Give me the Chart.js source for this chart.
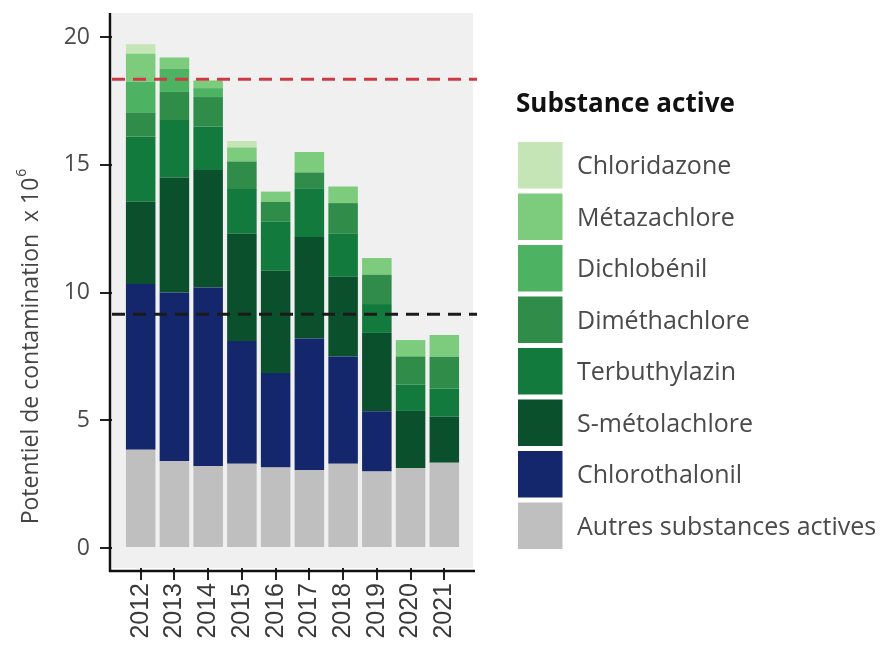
<!DOCTYPE html>
<html lang="fr">
<head>
<meta charset="UTF-8">
<title>Potentiel de contamination</title>
<script src="https://cdn.jsdelivr.net/npm/chart.js"></script>
<style>
  html, body { margin: 0; padding: 0; background: #fff; }
  #wrap { width: 884px; height: 645px; }
</style>
</head>
<body>
<div id="wrap"><canvas id="chart" width="884" height="645"></canvas></div>
<script>
// années
const years = ['2012', '2013', '2014', '2015', '2016', '2017', '2018', '2019', '2020', '2021'];

// potentiel de contamination x 10^6, par substance (de bas en haut)
const autres         = [3.85, 3.40, 3.20, 3.30, 3.15, 3.05, 3.30, 3.00, 3.12, 3.34];
const chlorothalonil = [6.48, 6.60, 7.00, 4.80, 3.70, 5.15, 4.20, 2.35, 0, 0];
const smetolachlore  = [3.22, 4.50, 4.60, 4.20, 4.00, 3.97, 3.12, 3.07, 2.25, 1.80];
const terbuthylazin  = [2.55, 2.25, 1.70, 1.75, 1.92, 1.91, 1.68, 1.13, 1.03, 1.11];
const dimethachlore  = [0.95, 1.10, 1.15, 1.08, 0.78, 0.62, 1.20, 1.15, 1.10, 1.24];
const dichlobenil    = [1.20, 0.90, 0.35, 0, 0, 0, 0, 0, 0, 0];
const metazachlore   = [1.10, 0.45, 0.30, 0.55, 0.40, 0.80, 0.65, 0.65, 0.64, 0.85];
const chloridazone   = [0.37, 0, 0, 0.25, 0, 0, 0, 0, 0, 0];

// lignes de référence
const seuilHaut = 18.35;
const seuilBas = 9.15;

const yTicks = [0, 5, 10, 15, 20];

const series = [
  { label: 'Autres substances actives', data: autres, color: '#bfbfbf' },
  { label: 'Chlorothalonil', data: chlorothalonil, color: '#15276c' },
  { label: 'S-métolachlore', data: smetolachlore, color: '#0b502d' },
  { label: 'Terbuthylazin', data: terbuthylazin, color: '#137a3d' },
  { label: 'Diméthachlore', data: dimethachlore, color: '#2f8c49' },
  { label: 'Dichlobénil', data: dichlobenil, color: '#4db363' },
  { label: 'Métazachlore', data: metazachlore, color: '#7dcb7c' },
  { label: 'Chloridazone', data: chloridazone, color: '#c6e5b6' }
];

const textFont = '"Open Sans", "DejaVu Sans", sans-serif';

const decor = {
  id: 'decor',
  beforeDraw(chart) {
    const { ctx, chartArea: a } = chart;
    ctx.save();
    ctx.fillStyle = '#f0f0f0';
    ctx.fillRect(a.left, a.top, a.right - a.left, a.bottom - a.top);
    ctx.restore();
  },
  afterDatasetsDraw(chart) {
    const { ctx, chartArea: a, scales } = chart;
    ctx.save();
    ctx.lineWidth = 3;
    ctx.setLineDash([13, 8]);
    [[seuilHaut, '#cc3b45'], [seuilBas, '#1a1a1a']].forEach(([v, c]) => {
      const py = scales.y.getPixelForValue(v);
      ctx.strokeStyle = c;
      ctx.beginPath();
      ctx.moveTo(a.left, py);
      ctx.lineTo(a.right + 4, py);
      ctx.stroke();
    });
    ctx.restore();
  },
  afterDraw(chart) {
    const { ctx, chartArea: a } = chart;
    ctx.save();
    // axes
    ctx.strokeStyle = '#111';
    ctx.lineWidth = 2.5;
    ctx.beginPath();
    ctx.moveTo(a.left - 2, a.top);
    ctx.lineTo(a.left - 2, a.bottom + 4);
    ctx.moveTo(a.left - 3, a.bottom + 3);
    ctx.lineTo(a.right + 2, a.bottom + 3);
    ctx.stroke();

    // titre axe y
    ctx.translate(31, 347);
    ctx.rotate(-Math.PI / 2);
    ctx.fillStyle = '#444';
    ctx.textBaseline = 'middle';
    ctx.textAlign = 'left';
    ctx.font = '23px ' + textFont;
    const main = 'Potentiel de contamination  x 10';
    const w = ctx.measureText(main).width;
    ctx.font = '14px ' + textFont;
    const wSup = ctx.measureText('6').width;
    const x0 = -(w + wSup) / 2;
    ctx.font = '23px ' + textFont;
    ctx.fillText(main, x0, 0);
    ctx.font = '14px ' + textFont;
    ctx.fillText('6', x0 + w + 1, -9);
    ctx.restore();

    // légende
    ctx.save();
    ctx.fillStyle = '#111';
    ctx.font = 'bold 26px ' + textFont;
    ctx.textBaseline = 'alphabetic';
    ctx.fillText('Substance active', 516, 112);
    const items = chart.data.datasets.slice().reverse();
    items.forEach((ds, i) => {
      const top = 142 + i * 51.5;
      ctx.fillStyle = ds.backgroundColor;
      ctx.fillRect(518, top, 44.5, 46.5);
      ctx.fillStyle = '#4a4a4a';
      ctx.font = '25px ' + textFont;
      ctx.textBaseline = 'middle';
      ctx.fillText(ds.label, 577, top + 25);
    });
    ctx.restore();
  }
};

new Chart(document.getElementById('chart'), {
  type: 'bar',
  data: {
    labels: years,
    datasets: series.map(s => ({
      label: s.label,
      data: s.data,
      backgroundColor: s.color,
      borderWidth: 0,
      barPercentage: 0.875,
      categoryPercentage: 1
    }))
  },
  options: {
    responsive: false,
    animation: false,
    layout: { padding: { top: 13, right: 411, bottom: 0, left: 0 } },
    plugins: {
      legend: { display: false },
      tooltip: { enabled: false }
    },
    scales: {
      x: {
        type: 'category',
        stacked: true,
        offset: false,
        afterBuildTicks(s) {
          s._startValue = -0.85;
          s._valueRange = years.length - 1 + 1.7;
        },
        afterFit(s) { s.height = 77; s.paddingLeft = 0; s.paddingRight = 0; },
        border: { display: false },
        grid: { display: true, drawOnChartArea: false, drawTicks: true, tickLength: 12, color: '#222', lineWidth: 2, offset: false },
        ticks: {
          autoSkip: false, minRotation: 90, maxRotation: 90, padding: 3,
          color: '#3a3a3a', font: { family: '"Liberation Sans", Arial, sans-serif', size: 25 }
        }
      },
      y: {
        stacked: true,
        min: -0.78,
        max: 20.94,
        afterFit(s) { s.width = 112; s.paddingTop = 0; s.paddingBottom = 0; },
        afterBuildTicks(s) { s.ticks = yTicks.map(v => ({ value: v })); },
        border: { display: false },
        grid: { display: true, drawOnChartArea: false, drawTicks: true, tickLength: 12, color: '#222', lineWidth: 2 },
        ticks: {
          padding: 10,
          color: '#4a4a4a', font: { family: textFont, size: 23 }
        }
      }
    }
  },
  plugins: [decor]
});
</script>
</body>
</html>
